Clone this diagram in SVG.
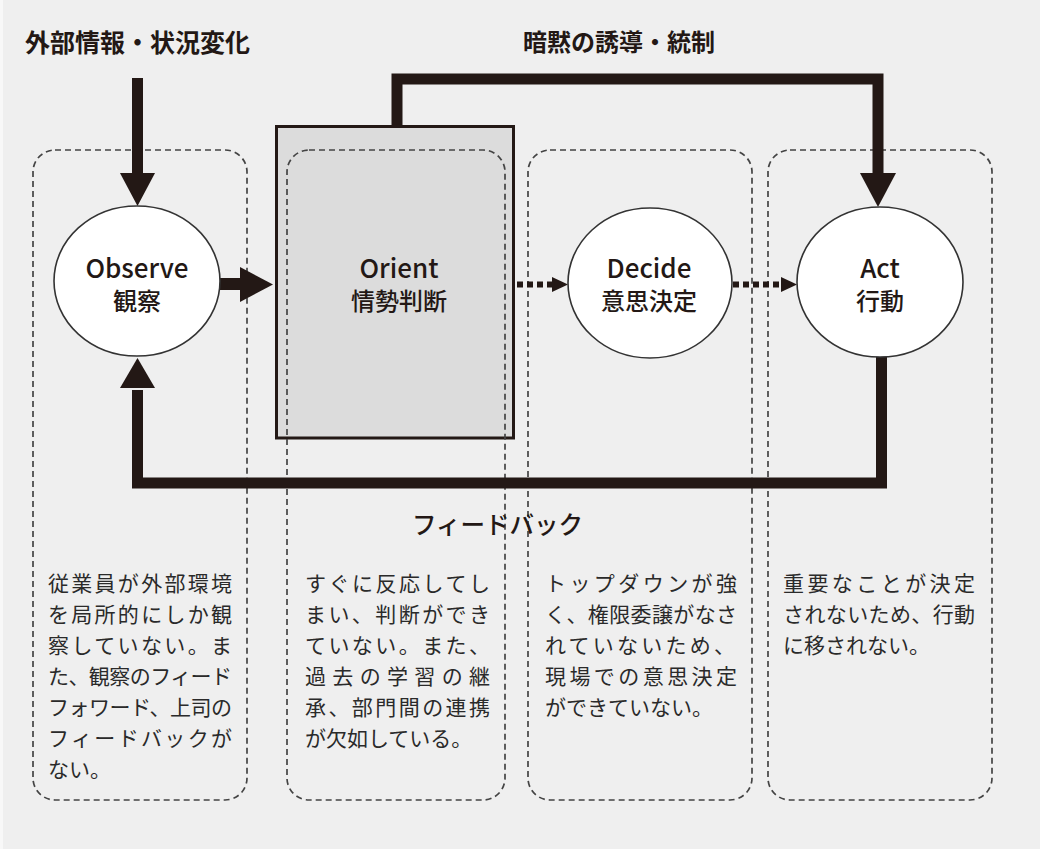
<svg xmlns="http://www.w3.org/2000/svg" width="1040" height="849" viewBox="0 0 1040 849">
<style>
.bg{fill:#efefef}
.lane{fill:none;stroke:#444;stroke-width:1.7;stroke-dasharray:6 4}
.node{fill:#ffffff;stroke:#333;stroke-width:1.6}
.orient{fill:#dcdcdc;stroke:#231815;stroke-width:3}
.t{font-family:"Noto Sans CJK JP","Noto Sans",sans-serif;fill:#231815}
.lat{font-size:26px;font-weight:500;text-anchor:middle}
.jp{font-size:24px;font-weight:500;text-anchor:middle}
.head{font-size:25px;font-weight:600}
.body{font-size:21px;fill:#2a2a2a}
.thick{fill:none;stroke:#231815;stroke-width:11;stroke-linejoin:miter;stroke-linecap:butt}
.dot{fill:none;stroke:#231815;stroke-width:6;stroke-dasharray:6 4}
.head-fill{fill:#231815}
</style>
<rect class="bg" x="0" y="0" width="1040" height="849"/>
<rect x="0" y="0" width="3" height="849" fill="#f8f8f8"/>

<g id="orient">
<rect class="orient" x="276.5" y="126.5" width="237" height="311.5"/>
<text class="t lat" x="399" y="278">Orient</text>
<text class="t jp" x="399" y="310">情勢判断</text>
</g>

<g id="lanes">
<rect class="lane" x="33" y="150" width="214" height="650" rx="22" ry="22"/>
<rect class="lane" x="287" y="150" width="218" height="650" rx="22" ry="22"/>
<rect class="lane" x="528" y="150" width="224" height="650" rx="22" ry="22"/>
<rect class="lane" x="768" y="150" width="224" height="650" rx="22" ry="22"/>
</g>

<g id="labels">
<text class="t head" x="25" y="52">外部情報・状況変化</text>
<text class="t head" x="523" y="51" style="font-size:24px">暗黙の誘導・統制</text>
<text class="t" x="412" y="534" style="font-size:24.5px;font-weight:500">フィードバック</text>
</g>

<g id="connectors">
<line class="thick" x1="137.5" y1="78" x2="137.5" y2="175"/>
<polygon class="head-fill" points="120,173 155,173 137.5,206"/>
<line class="thick" x1="218" y1="284" x2="242" y2="284" style="stroke-width:12"/>
<polygon class="head-fill" points="240,267 240,302 273,284.5"/>
<line class="dot" x1="517" y1="284.5" x2="553" y2="284.5"/>
<polygon class="head-fill" points="552,277 552,292 568,284.5"/>
<line class="dot" x1="733" y1="284.5" x2="782" y2="284.5"/>
<polygon class="head-fill" points="781,277 781,292 797,284.5"/>
<path class="thick" d="M397,126 V79 H878 V175"/>
<polygon class="head-fill" points="860,173 896,173 878,207"/>
<path class="thick" d="M881.5,356 V483 H137.5 V390"/>
<polygon class="head-fill" points="120,388 155,388 137.5,358"/>
</g>

<g id="observe">
<ellipse class="node" cx="137" cy="281" rx="83" ry="75"/>
<text class="t lat" x="137" y="278">Observe</text>
<text class="t jp" x="137" y="310">観察</text>
</g>

<g id="decide">
<ellipse class="node" cx="650" cy="283" rx="82" ry="75"/>
<text class="t lat" x="649" y="278">Decide</text>
<text class="t jp" x="649" y="310">意思決定</text>
</g>

<g id="act">
<ellipse class="node" cx="880" cy="282" rx="83" ry="75"/>
<text class="t lat" x="880" y="278">Act</text>
<text class="t jp" x="880" y="310">行動</text>
</g>

<g id="text-observe" class="t body">
<text x="48" y="591" textLength="184" lengthAdjust="spacing">従業員が外部環境</text>
<text x="48" y="622" textLength="184" lengthAdjust="spacing">を局所的にしか観</text>
<text x="48" y="653" textLength="184" lengthAdjust="spacing">察していない。ま</text>
<text x="48" y="684" textLength="184" lengthAdjust="spacing">た、観察のフィード</text>
<text x="48" y="715" textLength="184" lengthAdjust="spacing">フォワード、上司の</text>
<text x="48" y="746" textLength="184" lengthAdjust="spacing">フィードバックが</text>
<text x="48" y="777">ない。</text>
</g>

<g id="text-orient" class="t body">
<text x="305" y="591" textLength="185" lengthAdjust="spacing">すぐに反応してし</text>
<text x="305" y="622" textLength="185" lengthAdjust="spacing">まい、判断ができ</text>
<text x="305" y="653" textLength="185" lengthAdjust="spacing">ていない。また、</text>
<text x="305" y="684" textLength="185" lengthAdjust="spacing">過去の学習の継</text>
<text x="305" y="715" textLength="185" lengthAdjust="spacing">承、部門間の連携</text>
<text x="305" y="746">が欠如している。</text>
</g>

<g id="text-decide" class="t body">
<text x="545" y="591" textLength="192" lengthAdjust="spacing">トップダウンが強</text>
<text x="545" y="622" textLength="192" lengthAdjust="spacing">く、権限委譲がなさ</text>
<text x="545" y="653" textLength="190" lengthAdjust="spacing">れていないため、</text>
<text x="545" y="684" textLength="192" lengthAdjust="spacing">現場での意思決定</text>
<text x="545" y="715">ができていない。</text>
</g>

<g id="text-act" class="t body">
<text x="783" y="591" textLength="192" lengthAdjust="spacing">重要なことが決定</text>
<text x="783" y="622" textLength="192" lengthAdjust="spacing">されないため、行動</text>
<text x="783" y="653">に移されない。</text>
</g>
</svg>
